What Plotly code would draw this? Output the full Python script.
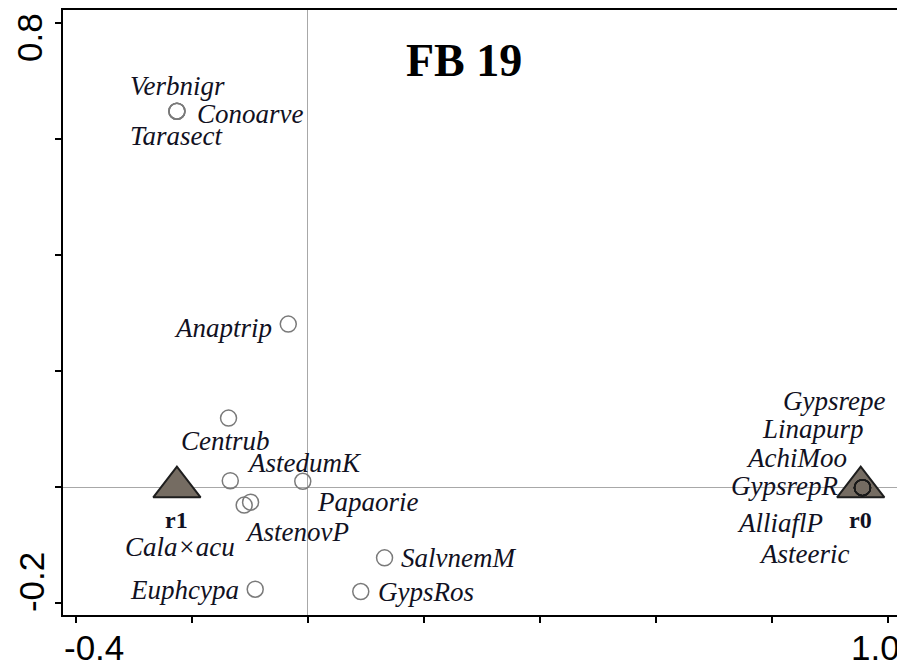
import plotly.graph_objects as go

# ---- data ----
species = ["Verbnigr", "Conoarve", "Tarasect", "Anaptrip", "Centrub", "AstedumK",
           "Papaorie", "AstenovP", "Cala\u00d7acu", "Euphcypa", "SalvnemM", "GypsRos",
           "Gypsrepe", "Linapurp", "AchiMoo", "GypsrepR", "AlliaflP", "Asteeric"]
sp_x = [-0.226, -0.226, -0.226, -0.034, -0.137, -0.134,
        -0.009, -0.099, -0.110, -0.091, 0.132, 0.091,
        0.956, 0.956, 0.956, 0.956, 0.956, 0.956]
sp_y = [0.648, 0.648, 0.648, 0.281, 0.119, 0.011,
        0.010, -0.026, -0.031, -0.176, -0.122, -0.180,
        -0.001, -0.001, -0.001, -0.001, -0.001, -0.001]

sites = ["r1", "r0"]
site_x = [-0.226, 0.953]
site_y = [0.0, 0.0]

x_ticks = [-0.4, -0.2, 0.0, 0.2, 0.4, 0.6, 0.8, 1.0]
y_ticks = [-0.2, 0.0, 0.2, 0.4, 0.6, 0.8]
x_label_ticks = ["-0.4", "1.0"]
y_label_ticks = ["-0.2", "0.8"]
title_text = "FB 19"

# ---- label placement (pixel offsets from point) ----
label_style = {
    "Verbnigr": (1, 25, "center"),
    "Conoarve": (18, -3, "left"),
    "Tarasect": (0, -25, "center"),
    "Anaptrip": (-14, -4, "right"),
    "Centrub": (-3, -23, "center"),
    "AstedumK": (15, 18, "left"),
    "Papaorie": (12, -21, "left"),
    "AstenovP": (-8, -30, "left"),
    "Cala\u00d7acu": (-64, -42, "center"),
    "Euphcypa": (-14, -1, "right"),
    "SalvnemM": (14, 0, "left"),
    "GypsRos": (15, 0, "left"),
    "Gypsrepe": (-28, 87, "center"),
    "Linapurp": (-49, 59, "center"),
    "AchiMoo": (-66, 30, "center"),
    "GypsrepR": (-78, 2, "center"),
    "AlliaflP": (-82, -35, "center"),
    "Asteeric": (-58, -66, "center"),
}
site_label_shift = -33

# the page body adds an 8px offset at left/top
W, H = 897, 658
margin = dict(l=55, r=6, t=0, b=51)
x_range = [-0.4224, 1.0190]
y_range = [-0.2205, 0.8225]

fig = go.Figure()

# site triangles
fig.add_trace(go.Scatter(
    x=site_x, y=site_y, mode="markers",
    marker=dict(symbol="triangle-up", size=41, color="#756c62",
                line=dict(color="#1e1e1e", width=2)),
    hoverinfo="skip", showlegend=False, cliponaxis=False))

# species circles
circ_line = ["#1a1a1a" if abs(x - site_x[1]) < 0.02 and abs(y) < 0.02 else "#7a7a7a"
             for x, y in zip(sp_x, sp_y)]
fig.add_trace(go.Scatter(
    x=sp_x, y=sp_y, mode="markers",
    marker=dict(symbol="circle", size=16, color="rgba(0,0,0,0)",
                line=dict(color=circ_line, width=1.5)),
    hoverinfo="skip", showlegend=False))

serif = "Liberation Serif, Times New Roman, serif"
sans = "Liberation Sans, Arial, sans-serif"

ann = []
for name, x, y in zip(species, sp_x, sp_y):
    dx, dy, anchor = label_style[name]
    ann.append(dict(x=x, y=y, xref="x", yref="y", text="<i>%s</i>" % name,
                    showarrow=False, xanchor=anchor, yanchor="middle",
                    xshift=dx, yshift=dy,
                    font=dict(family=serif, size=27, color="#111122")))
for name, x, y in zip(sites, site_x, site_y):
    ann.append(dict(x=x, y=y, xref="x", yref="y", text="<b>%s</b>" % name,
                    showarrow=False, xanchor="center", yanchor="middle",
                    yshift=site_label_shift,
                    font=dict(family=serif, size=24, color="#111122")))

# axis end labels
ann.append(dict(x=x_ticks[0], y=0, xref="x", yref="paper", text=x_label_ticks[0],
                showarrow=False, xanchor="center", yanchor="middle",
                xshift=18, yshift=-32, font=dict(family=sans, size=35, color="black")))
ann.append(dict(x=x_ticks[-1], y=0, xref="x", yref="paper", text=x_label_ticks[1],
                showarrow=False, xanchor="center", yanchor="middle",
                xshift=-12, yshift=-32, font=dict(family=sans, size=35, color="black")))
ann.append(dict(x=0, y=y_ticks[0], xref="paper", yref="y", text=y_label_ticks[0],
                showarrow=False, xanchor="center", yanchor="middle", textangle=-90,
                xshift=-32, yshift=21, font=dict(family=sans, size=35, color="black")))
ann.append(dict(x=0, y=y_ticks[-1], xref="paper", yref="y", text=y_label_ticks[1],
                showarrow=False, xanchor="center", yanchor="middle", textangle=-90,
                xshift=-34, yshift=-15, font=dict(family=sans, size=35, color="black")))

# title
ann.append(dict(x=0.4797, y=0.916, xref="paper", yref="paper", text="<b>%s</b>" % title_text,
                showarrow=False, xanchor="center", yanchor="middle",
                font=dict(family=serif, size=46, color="black")))

axis_common = dict(showgrid=False, zeroline=True, zerolinecolor="#a8a8a8", zerolinewidth=1,
                   showline=True, linecolor="black", linewidth=2, mirror=True,
                   ticks="outside", ticklen=6, tickwidth=1.5, tickcolor="black",
                   showticklabels=False, fixedrange=True)

fig.update_layout(
    width=W, height=H, autosize=False, margin=margin,
    paper_bgcolor="white", plot_bgcolor="white",
    xaxis=dict(range=x_range, tickvals=x_ticks, **axis_common),
    yaxis=dict(range=y_range, tickvals=y_ticks, **axis_common),
    annotations=ann, showlegend=False)

fig.write_html("out.html")
